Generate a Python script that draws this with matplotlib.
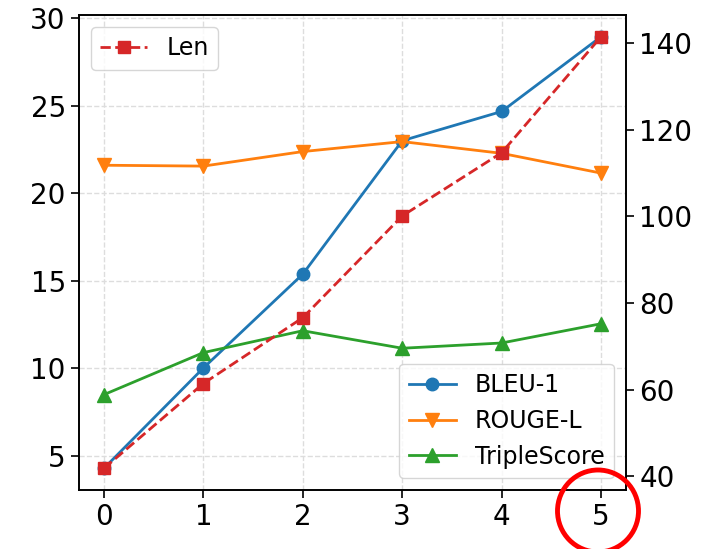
import matplotlib
matplotlib.use("Agg")
import matplotlib.pyplot as plt
from matplotlib.patches import Ellipse

# ============================================================
# Datos
# ============================================================
x = [0, 1, 2, 3, 4, 5]
bleu1 = [4.29, 10.02, 15.38, 23.0, 24.67, 28.94]
rouge_l = [21.6, 21.55, 22.38, 22.95, 22.28, 21.15]
triple_score = [8.5, 10.9, 12.15, 11.15, 11.45, 12.55]
length = [41.8, 61.4, 76.6, 100.1, 114.7, 141.5]

plt.rcParams.update({
    "font.size": 20,
    "xtick.labelsize": 20,
    "ytick.labelsize": 20,
    "legend.fontsize": 17,
})

fig = plt.figure(figsize=(7.03, 5.49), dpi=100)
ax = fig.add_axes([0.1124, 0.1075, 0.778, 0.865])

ax.plot(x, bleu1, marker="o", color="#1f77b4", lw=2, ms=9, label="BLEU-1")
ax.plot(x, rouge_l, marker="v", color="#ff7f0e", lw=2, ms=10, label="ROUGE-L")
ax.plot(x, triple_score, marker="^", color="#2ca02c", lw=2, ms=10, label="TripleScore")
ax.grid(True, linestyle="--", color="#dddddd", lw=1)
ax.set_xticks(x)
ax.legend(loc="lower right")

ax2 = ax.twinx()
ax2.plot(x, length, marker="s", color="#d62728", lw=2, ls="--", ms=9, label="Len")
ax2.legend(loc="upper left")

for a in (ax, ax2):
    a.tick_params(length=6, width=1.2)
    for s in a.spines.values():
        s.set_linewidth(1.2)

# circulo rojo alrededor del "5"
circulo = Ellipse((5.98, 0.38), 0.81, 0.82, transform=fig.dpi_scale_trans,
                  fill=False, edgecolor="red", lw=3.5, clip_on=False)
fig.patches.append(circulo)

fig.savefig("out.png", dpi=100)
